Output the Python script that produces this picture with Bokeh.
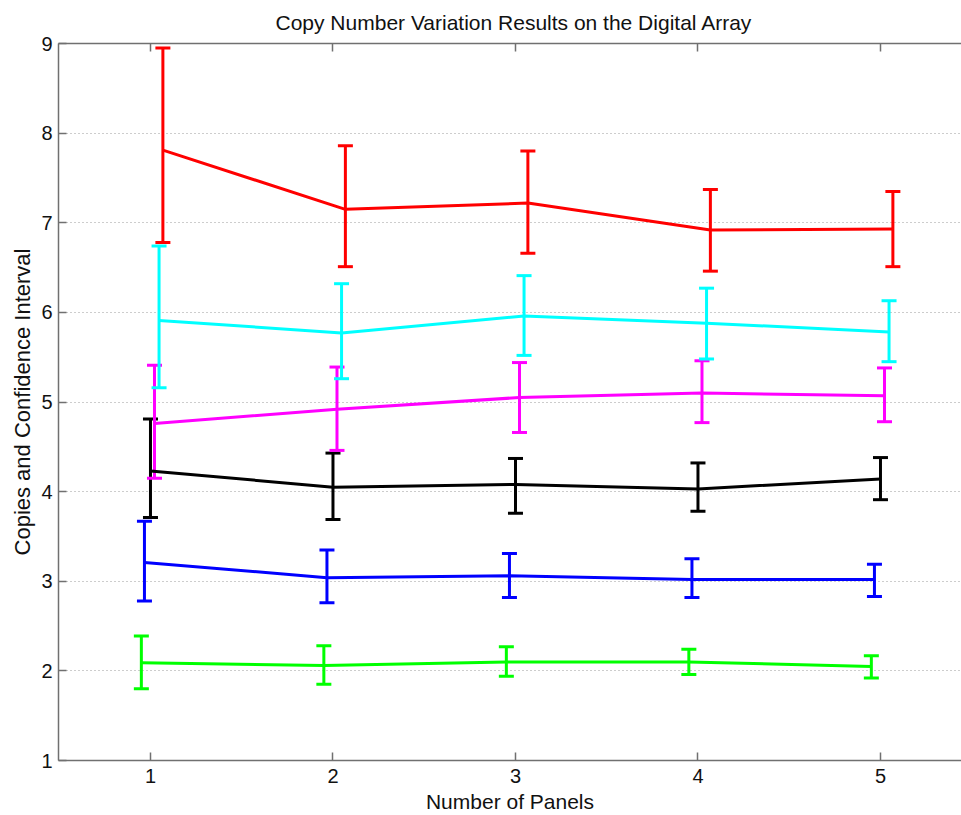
from bokeh.plotting import figure
from bokeh.models import (ColumnDataSource, Whisker, TeeHead, LinearAxis, FixedTicker,
                          Range1d, CustomLabelingPolicy)
from bokeh.embed import file_html
from bokeh.resources import INLINE

# ---- data ----
panels = [1, 2, 3, 4, 5]
series_colors = ["#00ff00", "#0000ff", "#000000", "#ff00ff", "#00ffff", "#ff0000"]
x_offsets = [-0.05, -0.033, 0.0, 0.022, 0.047, 0.068]

green_mean = [2.09, 2.06, 2.10, 2.10, 2.05]
green_upper = [2.39, 2.28, 2.27, 2.24, 2.17]
green_lower = [1.80, 1.85, 1.94, 1.96, 1.92]

blue_mean = [3.21, 3.04, 3.06, 3.02, 3.02]
blue_upper = [3.67, 3.35, 3.31, 3.25, 3.19]
blue_lower = [2.78, 2.76, 2.82, 2.82, 2.83]

black_mean = [4.23, 4.05, 4.08, 4.03, 4.14]
black_upper = [4.81, 4.43, 4.37, 4.32, 4.38]
black_lower = [3.71, 3.69, 3.76, 3.78, 3.91]

magenta_mean = [4.76, 4.92, 5.05, 5.10, 5.07]
magenta_upper = [5.41, 5.39, 5.44, 5.46, 5.38]
magenta_lower = [4.15, 4.46, 4.66, 4.77, 4.78]

cyan_mean = [5.91, 5.77, 5.96, 5.88, 5.78]
cyan_upper = [6.74, 6.32, 6.41, 6.27, 6.13]
cyan_lower = [5.16, 5.26, 5.52, 5.48, 5.45]

red_mean = [7.81, 7.15, 7.22, 6.92, 6.93]
red_upper = [8.95, 7.86, 7.80, 7.37, 7.35]
red_lower = [6.78, 6.51, 6.66, 6.46, 6.51]

y_ticks = [1, 2, 3, 4, 5, 6, 7, 8, 9]
title_text = "Copy Number Variation Results on the Digital Array"
x_label = "Number of Panels"
y_label = "Copies and Confidence Interval"

means = [green_mean, blue_mean, black_mean, magenta_mean, cyan_mean, red_mean]
uppers = [green_upper, blue_upper, black_upper, magenta_upper, cyan_upper, red_upper]
lowers = [green_lower, blue_lower, black_lower, magenta_lower, cyan_lower, red_lower]

FONT = "Liberation Sans"
AXIS_COLOR = "#707070"
TEXT_COLOR = "#111111"

p = figure(width=961, height=815,
           x_range=Range1d(0.496, 5.444), y_range=Range1d(1, 9),
           output_backend="svg", toolbar_location=None,
           min_border_left=58, min_border_right=0,
           min_border_top=43, min_border_bottom=54)

p.title.text = title_text
p.title.text_font = FONT
p.title.text_font_size = "21px"
p.title.text_font_style = "normal"
p.title.text_color = TEXT_COLOR
p.title.align = "left"
p.title.vertical_align = "top"
p.title.offset = 217
p.title.standoff = 16

p.outline_line_color = None
p.background_fill_color = "white"
p.border_fill_color = "white"

def style_axis(ax, ticks):
    ax.ticker = FixedTicker(ticks=ticks)
    ax.axis_line_color = AXIS_COLOR
    ax.axis_line_width = 1.5
    ax.major_tick_line_color = AXIS_COLOR
    ax.major_tick_line_width = 1.5
    ax.major_tick_in = 8
    ax.major_tick_out = 0
    ax.minor_tick_line_color = None
    ax.major_label_text_font = FONT
    ax.major_label_text_font_size = "20px"
    ax.major_label_text_color = TEXT_COLOR
    ax.axis_label_text_font = FONT
    ax.axis_label_text_font_size = "22px"
    ax.axis_label_text_font_style = "normal"
    ax.axis_label_text_color = TEXT_COLOR

xa = p.xaxis[0]
style_axis(xa, panels)
xa.axis_label = x_label
xa.axis_label_text_font_size = "21px"
xa.major_label_standoff = 8
xa.axis_label_standoff = 4

ya = p.yaxis[0]
style_axis(ya, y_ticks)
ya.axis_label = y_label
ya.major_label_standoff = 6
ya.axis_label_standoff = 3

# top frame edge with inward ticks, no labels (MATLAB box)
top_axis = LinearAxis()
style_axis(top_axis, panels)
top_axis.major_label_text_font_size = "0px"
top_axis.major_label_standoff = 0
top_axis.major_label_policy = CustomLabelingPolicy(
    code="for (let i = 0; i < indices.size; i++) { indices.unset(i) } return indices")
p.add_layout(top_axis, "above")

p.xgrid.grid_line_color = None
p.ygrid.ticker = FixedTicker(ticks=y_ticks)
p.ygrid.grid_line_color = "#9a9a9a"
p.ygrid.grid_line_dash = "1 3"
p.ygrid.grid_line_width = 1.2

for color, off, m, u, l in zip(series_colors, x_offsets, means, uppers, lowers):
    xs = [x + off for x in panels]
    src = ColumnDataSource(dict(x=xs, mean=m, upper=u, lower=l))
    p.line("x", "mean", source=src, line_color=color, line_width=3)
    w = Whisker(source=src, base="x", upper="upper", lower="lower",
                dimension="height", line_color=color, line_width=3,
                upper_head=TeeHead(size=15, line_color=color, line_width=3),
                lower_head=TeeHead(size=15, line_color=color, line_width=3))
    p.add_layout(w)

open("out.html", "w").write(file_html(p, INLINE))
